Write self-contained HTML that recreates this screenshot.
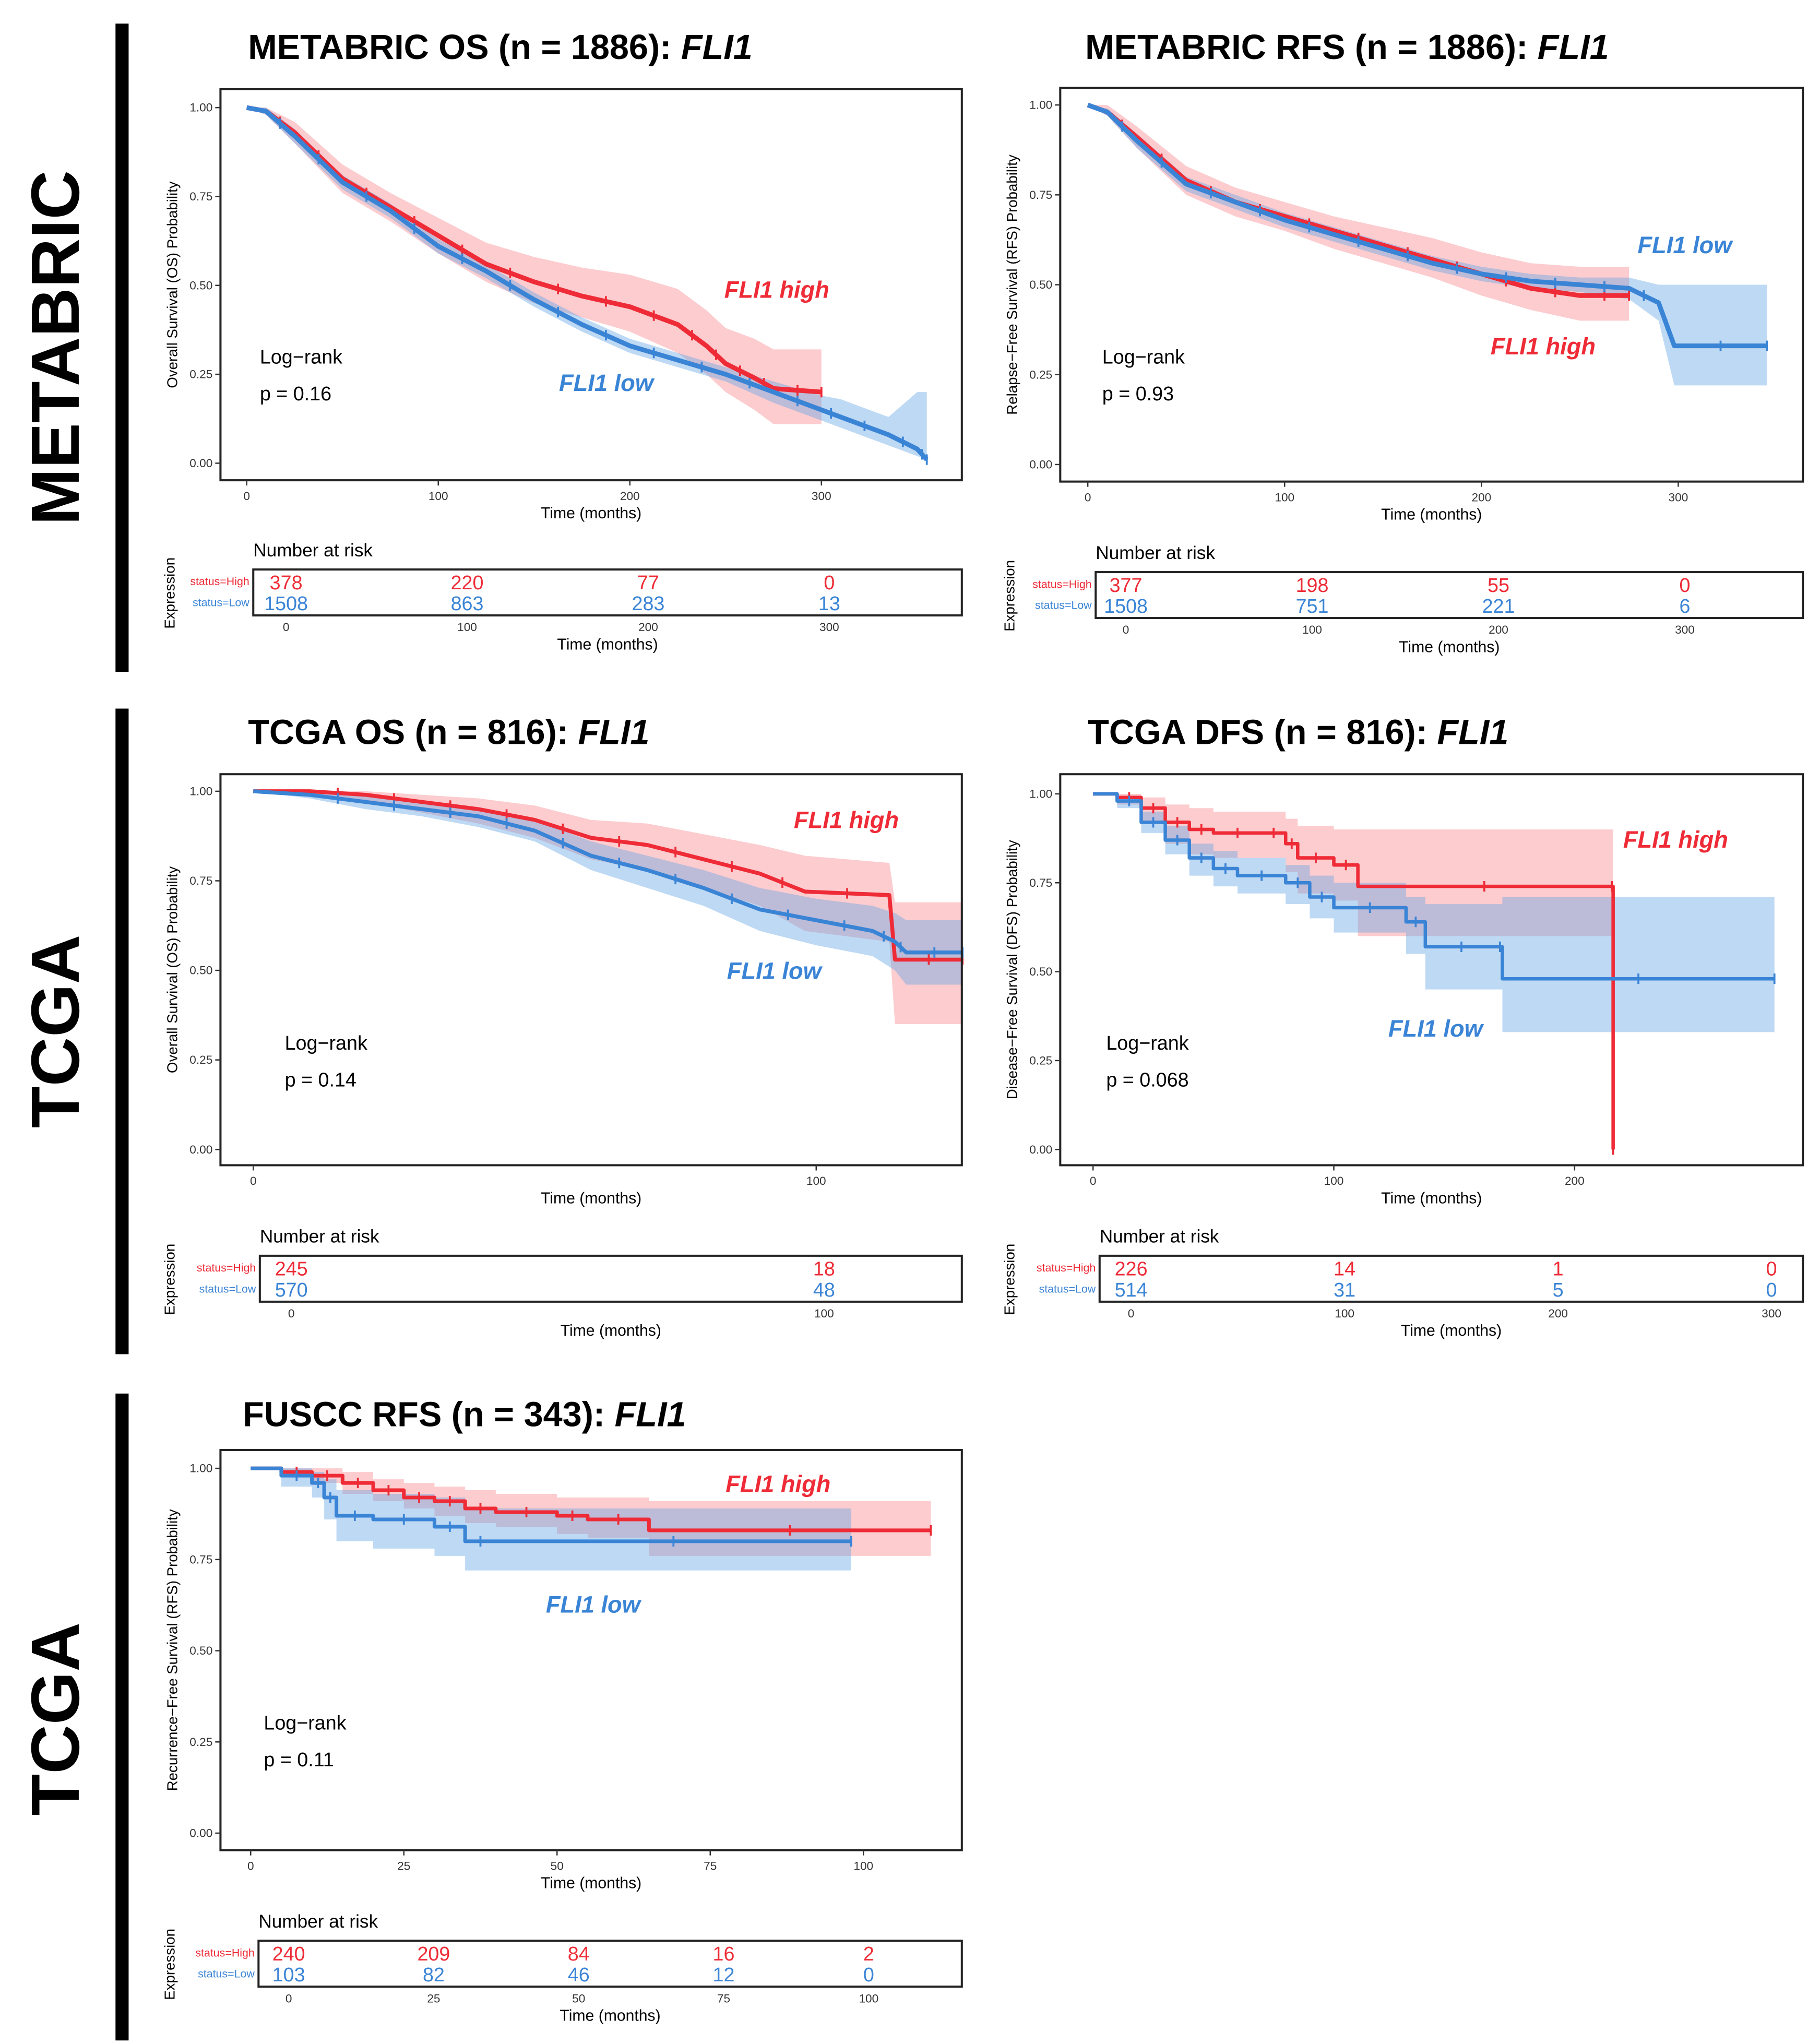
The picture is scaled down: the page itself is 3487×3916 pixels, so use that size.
<!DOCTYPE html>
<html><head><meta charset="utf-8"><style>
html,body{margin:0;padding:0;background:#fff}
svg{display:block}
text{font-family:"Liberation Sans",sans-serif}
</style></head><body>
<svg id="fig" xmlns="http://www.w3.org/2000/svg" width="3487" height="3916" viewBox="0 0 1387 1557.7">
<rect x="0" y="0" width="1387" height="1558" fill="#fff"/>
<rect x="88" y="18" width="10" height="494" fill="#000"/>
<rect x="88" y="540" width="10" height="492" fill="#000"/>
<rect x="88" y="1062" width="10" height="493" fill="#000"/>
<text transform="translate(60,265) rotate(-90)" text-anchor="middle" font-size="52" font-weight="bold">METABRIC</text>
<text transform="translate(60,786) rotate(-90)" text-anchor="middle" font-size="52" font-weight="bold">TCGA</text>
<text transform="translate(60,1310) rotate(-90)" text-anchor="middle" font-size="52" font-weight="bold">TCGA</text>
<g id="panels"></g>
</svg>
<script>
// ---- data: METABRIC OS ----
const mosHighT=[0,10,25,50,75,100,125,150,175,200,225,240,250,265,275,300];
const mosHighS=[1,0.99,0.93,0.80,0.72,0.64,0.56,0.51,0.47,0.44,0.39,0.33,0.28,0.24,0.21,0.20];
const mosHighU=[1,1,0.96,0.84,0.76,0.69,0.62,0.58,0.55,0.53,0.49,0.43,0.38,0.35,0.32,0.32];
const mosHighL=[1,0.98,0.90,0.76,0.68,0.59,0.51,0.45,0.41,0.37,0.31,0.25,0.20,0.15,0.11,0.11];
const mosLowT=[0,10,25,50,75,100,125,150,175,200,225,250,275,300,310,335,350,355];
const mosLowS=[1,0.99,0.92,0.79,0.71,0.61,0.54,0.46,0.39,0.33,0.29,0.25,0.20,0.15,0.13,0.08,0.04,0.01];
const mosLowU=[1,1,0.94,0.81,0.73,0.63,0.56,0.48,0.41,0.35,0.31,0.27,0.23,0.19,0.18,0.13,0.20,0.20];
const mosLowL=[1,0.98,0.90,0.77,0.69,0.59,0.52,0.44,0.37,0.31,0.27,0.23,0.17,0.12,0.10,0.05,0.02,0.01];
// ---- METABRIC RFS ----
const mrfHighT=[0,10,25,50,75,100,125,150,175,200,225,250,275];
const mrfHighS=[1,0.98,0.91,0.79,0.73,0.69,0.65,0.61,0.57,0.53,0.49,0.47,0.47];
const mrfHighU=[1,1,0.94,0.83,0.77,0.73,0.69,0.66,0.63,0.59,0.56,0.55,0.55];
const mrfHighL=[1,0.97,0.88,0.75,0.69,0.65,0.60,0.56,0.52,0.47,0.43,0.40,0.40];
const mrfLowT=[0,10,25,50,75,100,125,150,175,200,225,250,275,290,298,345];
const mrfLowS=[1,0.98,0.90,0.78,0.73,0.68,0.64,0.60,0.56,0.53,0.51,0.50,0.49,0.45,0.33,0.33];
const mrfLowU=[1,0.99,0.92,0.80,0.75,0.70,0.66,0.62,0.58,0.55,0.53,0.52,0.52,0.50,0.50,0.50];
const mrfLowL=[1,0.97,0.88,0.76,0.71,0.66,0.62,0.58,0.54,0.51,0.49,0.48,0.46,0.40,0.22,0.22];
// ---- TCGA OS ----
const tosHighT=[0,10,20,30,40,50,60,70,80,90,98,113,114,126];
const tosHighS=[1,1,0.99,0.97,0.95,0.92,0.87,0.85,0.81,0.77,0.72,0.71,0.53,0.53];
const tosHighU=[1,1,1,0.99,0.98,0.96,0.92,0.91,0.88,0.85,0.82,0.80,0.69,0.69];
const tosHighL=[1,0.99,0.97,0.94,0.91,0.87,0.81,0.78,0.73,0.68,0.61,0.58,0.35,0.35];
const tosLowT=[0,10,20,30,40,50,60,70,80,90,100,110,114,116,126];
const tosLowS=[1,0.99,0.97,0.95,0.93,0.89,0.82,0.78,0.73,0.67,0.64,0.61,0.58,0.55,0.55];
const tosLowU=[1,1,0.99,0.97,0.95,0.92,0.86,0.82,0.78,0.73,0.70,0.68,0.66,0.64,0.64];
const tosLowL=[1,0.98,0.95,0.93,0.90,0.86,0.78,0.73,0.68,0.61,0.57,0.54,0.50,0.46,0.46];
// ---- TCGA DFS ----
const tdfHighT=[0,10,20,30,40,50,70,80,85,100,110,215,216];
const tdfHighS=[1,0.99,0.96,0.92,0.90,0.89,0.89,0.86,0.82,0.80,0.74,0.74,0.0];
const tdfHighU=[1,1,0.99,0.97,0.96,0.95,0.95,0.93,0.91,0.90,0.90,0.90,0.90];
const tdfHighL=[1,0.97,0.92,0.86,0.83,0.82,0.82,0.78,0.72,0.70,0.60,0.60,0.60];
const tdfLowT=[0,10,20,30,40,50,60,80,90,100,130,138,168,170,283];
const tdfLowS=[1,0.98,0.92,0.87,0.82,0.79,0.77,0.75,0.71,0.68,0.64,0.57,0.57,0.48,0.48];
const tdfLowU=[1,0.99,0.95,0.91,0.86,0.84,0.82,0.80,0.77,0.75,0.71,0.69,0.69,0.71,0.71];
const tdfLowL=[1,0.96,0.89,0.83,0.77,0.74,0.72,0.69,0.65,0.61,0.55,0.45,0.45,0.33,0.33];
// ---- FUSCC RFS ----
const furHighT=[0,5,10,15,20,25,30,35,40,50,55,65,111];
const furHighS=[1,0.99,0.98,0.96,0.94,0.92,0.91,0.89,0.88,0.87,0.86,0.83,0.83];
const furHighU=[1,1,1,0.99,0.97,0.96,0.95,0.94,0.93,0.92,0.92,0.91,0.91];
const furHighL=[1,0.98,0.96,0.93,0.91,0.89,0.87,0.85,0.84,0.82,0.81,0.76,0.76];
const furLowT=[0,5,10,12,14,20,30,35,40,98];
const furLowS=[1,0.98,0.96,0.92,0.87,0.86,0.84,0.80,0.80,0.80];
const furLowU=[1,1,0.99,0.97,0.94,0.93,0.92,0.89,0.89,0.89];
const furLowL=[1,0.95,0.92,0.86,0.80,0.78,0.76,0.72,0.72,0.72];
// ---- risk tables ----
const mosRiskT=[0,100,200,300], mosRiskHigh=[378,220,77,0], mosRiskLow=[1508,863,283,13];
const mrfRiskT=[0,100,200,300], mrfRiskHigh=[377,198,55,0], mrfRiskLow=[1508,751,221,6];
const tosRiskT=[0,100], tosRiskHigh=[245,18], tosRiskLow=[570,48];
const tdfRiskT=[0,100,200,300], tdfRiskHigh=[226,14,1,0], tdfRiskLow=[514,31,5,0];
const furRiskT=[0,25,50,75,100], furRiskHigh=[240,209,84,16,2], furRiskLow=[103,82,46,12,0];
// ---- tick labels ----
const yTicks=[0,0.25,0.5,0.75,1], yTickLabels=["0.00","0.25","0.50","0.75","1.00"];
const xTicks300=[0,100,200,300], xTicks100=[0,100], xTicks200=[0,100,200], xTicks25=[0,25,50,75,100];

const NS="http://www.w3.org/2000/svg";
const root=document.getElementById('panels');
const RED="#ee2b36", BLUE="#3a84d6", RFILL="rgba(248,120,128,0.38)", BFILL="rgba(100,165,228,0.42)";
function mk(tag,attrs,parent,txt){const e=document.createElementNS(NS,tag);for(const k in attrs)e.setAttribute(k,attrs[k]);if(txt!==undefined)e.textContent=txt;(parent||root).appendChild(e);return e;}

function panel(c){
  const g=mk('g',{});
  
  
  const X=t=>c.tx0+t*c.ts, Y=s=>c.yb-(c.yb-c.yt)*s;
  const seg=(x,y)=>c.smooth?('L'+x+','+y):('H'+x+'V'+y);
  const segB=(x,y)=>c.smooth?('L'+x+','+y):('V'+y+'H'+x);
  let e=mk('text',{x:c.titleX,y:c.titleY,'font-size':26.5,'font-weight':'bold'},g);
  
  
  e.textContent=c.title+' ';
  mk('tspan',{'font-style':'italic'},e,'FLI1');
  c.series.forEach(s=>{
    let d='M'+X(s.t[0])+','+Y(s.u[0]);
    for(let i=1;i<s.t.length;i++)d+=seg(X(s.t[i]),Y(s.u[i]));
    d+='L'+X(s.t[s.t.length-1])+','+Y(s.l[s.t.length-1]);
    for(let i=s.t.length-1;i>0;i--)d+=segB(X(s.t[i-1]),Y(s.l[i-1]));
    d+='Z';
    const p=mk('path',{d:d,fill:s.fill},g);
    
    
  });
  c.series.forEach(s=>{
    let d='M'+X(s.t[0])+','+Y(s.s[0]);
    for(let i=1;i<s.t.length;i++)d+=seg(X(s.t[i]),Y(s.s[i]));
    const p=mk('path',{d:d,fill:'none',stroke:s.col,'stroke-width':c.lw,'stroke-linejoin':'round'},g);
    
    
    let cd='';
    for(let i=1;i<s.t.length-1;i++){const tm=(s.t[i]+s.t[i+1])/2;const sv=c.smooth?(s.s[i]+s.s[i+1])/2:s.s[i];cd+='M'+X(tm)+','+(Y(sv)-4)+'v8';}
    cd+='M'+X(s.t[s.t.length-1])+','+(Y(s.s[s.t.length-1])-4)+'v8';
    const cm=mk('path',{d:cd,stroke:s.col,'stroke-width':1.5},g);
    
    
  });
  const box=mk('rect',{x:c.bx0,y:c.by0,width:c.bx1-c.bx0,height:c.by1-c.by0,fill:'none',stroke:'#222','stroke-width':1.6},g);
  
  
  yTicks.forEach((v,i)=>{
    mk('line',{x1:c.bx0-4,x2:c.bx0,y1:Y(v),y2:Y(v),stroke:'#333'},g);
    const t=mk('text',{x:c.bx0-6,y:Y(v)+3,'font-size':9,'text-anchor':'end',fill:'#333'},g,yTickLabels[i]);
    
    
  });
  c.xt.forEach(v=>{
    mk('line',{x1:X(v),x2:X(v),y1:c.by1,y2:c.by1+4,stroke:'#333'},g);
    const t=mk('text',{x:X(v),y:c.by1+15,'font-size':9,'text-anchor':'middle',fill:'#333'},g,String(v));
    
    
  });
  e=mk('text',{x:(c.bx0+c.bx1)/2,y:c.by1+29,'font-size':12,'text-anchor':'middle'},g,'Time (months)');
  
  
  e=mk('text',{transform:'translate('+(c.bx0-33)+','+((c.by0+c.by1)/2)+') rotate(-90)','font-size':11,'text-anchor':'middle'},g,c.ylab);
  
  
  e=mk('text',{x:c.lrX,y:c.lrY,'font-size':15},g,'Log\u2212rank');
  
  
  e=mk('text',{x:c.lrX,y:c.lrY+28,'font-size':15},g,'p = '+c.p);
  
  
  e=mk('text',{x:c.hiX,y:c.hiY,'font-size':18,'font-weight':'bold','font-style':'italic',fill:RED},g,'FLI1 high');
  
  
  e=mk('text',{x:c.loX,y:c.loY,'font-size':18,'font-weight':'bold','font-style':'italic',fill:BLUE},g,'FLI1 low');
  
  
  const R=c.risk, RX=t=>R.x0+t*R.s;
  e=mk('text',{x:R.bx0,y:R.by0-10,'font-size':14},g,'Number at risk');
  
  
  e=mk('rect',{x:R.bx0,y:R.by0,width:c.bx1-R.bx0,height:35,fill:'none',stroke:'#222','stroke-width':1.6},g);
  
  
  e=mk('text',{x:R.bx0-3,y:R.by0+12,'font-size':8.5,'text-anchor':'end',fill:RED},g,'status=High');
  
  
  e=mk('text',{x:R.bx0-3,y:R.by0+28,'font-size':8.5,'text-anchor':'end',fill:BLUE},g,'status=Low');
  
  
  e=mk('text',{transform:'translate('+(c.bx0-35)+','+(R.by0+18)+') rotate(-90)','font-size':11,'text-anchor':'middle'},g,'Expression');
  
  
  R.t.forEach((t,i)=>{
    let a=mk('text',{x:RX(t),y:R.by0+15,'font-size':15,'text-anchor':'middle',fill:RED},g,String(R.hi[i]));
    
    
    a=mk('text',{x:RX(t),y:R.by0+31,'font-size':15,'text-anchor':'middle',fill:BLUE},g,String(R.lo[i]));
    
    
    a=mk('text',{x:RX(t),y:R.by0+47,'font-size':9,'text-anchor':'middle',fill:'#333'},g,String(t));
    
    
  });
  e=mk('text',{x:(R.bx0+c.bx1)/2,y:R.by0+61,'font-size':12,'text-anchor':'middle'},g,'Time (months)');
  
  
}
function S(name,t,s,u,l,hi){return {name:name,t:t,s:s,u:u,l:l,col:hi?RED:BLUE,fill:hi?RFILL:BFILL};}

panel({id:'metabric-os',title:'METABRIC OS (n = 1886):',titleX:189,titleY:45,bx0:168,bx1:733,by0:68,by1:366,tx0:188,ts:1.46,yt:82,yb:353,smooth:true,lw:3.6,
 xt:xTicks300,ylab:'Overall Survival (OS) Probability',lrX:198,lrY:277,p:'0.16',hiX:552,hiY:227,loX:426,loY:298,
 series:[S('high',mosHighT,mosHighS,mosHighU,mosHighL,1),S('low',mosLowT,mosLowS,mosLowU,mosLowL,0)],
 risk:{bx0:193,by0:434,x0:218,s:1.38,t:mosRiskT,hi:mosRiskHigh,lo:mosRiskLow}});
panel({id:'metabric-rfs',title:'METABRIC RFS (n = 1886):',titleX:827,titleY:45,bx0:808,bx1:1374,by0:67,by1:367,tx0:829,ts:1.5,yt:80,yb:354,smooth:true,lw:3.6,
 xt:xTicks300,ylab:'Relapse\u2212Free Survival (RFS) Probability',lrX:840,lrY:277,p:'0.93',hiX:1136,hiY:270,loX:1248,loY:193,
 series:[S('high',mrfHighT,mrfHighS,mrfHighU,mrfHighL,1),S('low',mrfLowT,mrfLowS,mrfLowU,mrfLowL,0)],
 risk:{bx0:835,by0:436,x0:858,s:1.42,t:mrfRiskT,hi:mrfRiskHigh,lo:mrfRiskLow}});
panel({id:'tcga-os',title:'TCGA OS (n = 816):',titleX:189,titleY:567,bx0:168,bx1:733,by0:590,by1:888,tx0:193,ts:4.29,yt:603,yb:876,smooth:true,lw:3,
 xt:xTicks100,ylab:'Overall Survival (OS) Probability',lrX:217,lrY:800,p:'0.14',hiX:605,hiY:631,loX:554,loY:746,
 series:[S('high',tosHighT,tosHighS,tosHighU,tosHighL,1),S('low',tosLowT,tosLowS,tosLowU,tosLowL,0)],
 risk:{bx0:198,by0:957,x0:222,s:4.06,t:tosRiskT,hi:tosRiskHigh,lo:tosRiskLow}});
panel({id:'tcga-dfs',title:'TCGA DFS (n = 816):',titleX:829,titleY:567,bx0:808,bx1:1374,by0:590,by1:888,tx0:833,ts:1.835,yt:605,yb:876,smooth:false,lw:2.6,
 xt:xTicks200,ylab:'Disease\u2212Free Survival (DFS) Probability',lrX:843,lrY:800,p:'0.068',hiX:1237,hiY:646,loX:1058,loY:790,
 series:[S('high',tdfHighT,tdfHighS,tdfHighU,tdfHighL,1),S('low',tdfLowT,tdfLowS,tdfLowU,tdfLowL,0)],
 risk:{bx0:838,by0:957,x0:862,s:1.627,t:tdfRiskT,hi:tdfRiskHigh,lo:tdfRiskLow}});
panel({id:'fuscc-rfs',title:'FUSCC RFS (n = 343):',titleX:185,titleY:1087,bx0:168,bx1:733,by0:1105,by1:1410,tx0:191,ts:4.67,yt:1119,yb:1397,smooth:false,lw:2.8,
 xt:xTicks25,ylab:'Recurrence\u2212Free Survival (RFS) Probability',lrX:201,lrY:1318,p:'0.11',hiX:553,hiY:1137,loX:416,loY:1229,
 series:[S('high',furHighT,furHighS,furHighU,furHighL,1),S('low',furLowT,furLowS,furLowU,furLowL,0)],
 risk:{bx0:197,by0:1479,x0:220,s:4.42,t:furRiskT,hi:furRiskHigh,lo:furRiskLow}});
</script>
</body></html>
